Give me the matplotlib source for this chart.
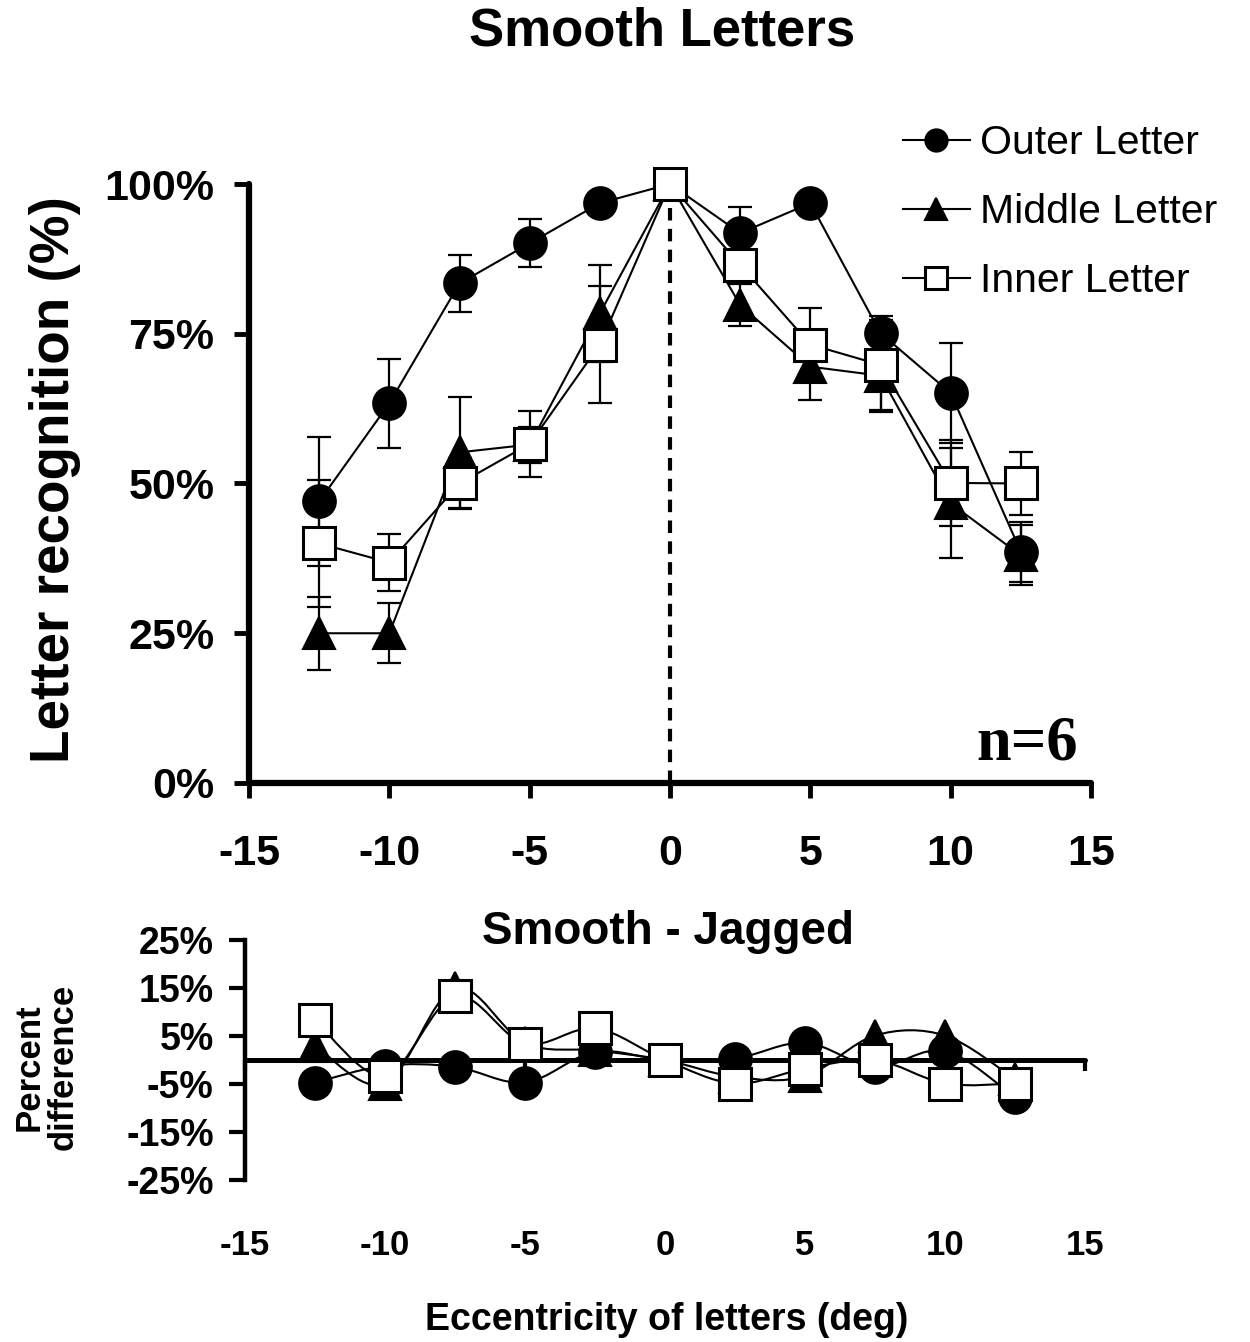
import numpy as np
import matplotlib
matplotlib.use("Agg")
import matplotlib.pyplot as plt
from matplotlib.path import Path
from matplotlib.patches import PathPatch

plt.rcParams['font.family'] = ['Liberation Sans', 'DejaVu Sans']

# ---------------- data ----------------
ecc = [-12.5, -10, -7.5, -5, -2.5, 0, 2.5, 5, 7.5, 10, 12.5]

outer = [47.0, 63.4, 83.4, 90.1, 96.8, 100.0, 91.8, 96.8, 75.1, 65.1, 38.6]
outer_err = [10.8, 7.4, 4.7, 4.0, 1.5, 0.0, 4.4, 1.5, 2.9, 8.4, 5.0]
middle = [25.0, 25.0, 55.2, 56.5, 78.4, 100.0, 79.8, 69.5, 68.0, 46.7, 38.0]
middle_err = [6.1, 5.0, 9.3, 3.0, 8.1, 0.0, 3.5, 5.6, 6.0, 9.2, 5.0]
inner = [40.0, 36.8, 50.0, 56.6, 73.2, 100.0, 86.5, 73.2, 69.8, 50.1, 50.0]
inner_err = [10.6, 4.8, 4.2, 5.5, 9.8, 0.0, 2.0, 6.1, 7.5, 7.2, 5.2]

diff_outer = [-4.7, -1.2, -1.4, -4.7, 1.7, 0.0, 0.3, 3.6, -1.4, 1.9, -7.8]
diff_middle = [3.0, -5.0, 15.0, 3.5, 2.0, 0.0, -3.5, -3.4, 5.1, 5.1, -4.0]
diff_inner = [8.3, -3.3, 13.3, 3.4, 6.6, 0.0, -4.9, -1.8, 0.0, -4.9, -4.9]

series_names = ["Outer Letter", "Middle Letter", "Inner Letter"]
x_ticks = [-15, -10, -5, 0, 5, 10, 15]
top_yticks = [0, 25, 50, 75, 100]
top_ytick_labels = ["0%", "25%", "50%", "75%", "100%"]
bot_yticks = [25, 15, 5, -5, -15, -25]
bot_ytick_labels = ["25%", "15%", "5%", "-5%", "-15%", "-25%"]

# ---------------- styles ----------------
styles = [
    dict(marker='o', mfc='black', mec='black', mew=1.5),
    dict(marker='^', mfc='black', mec='black', mew=1.5),
    dict(marker='s', mfc='white', mec='black', mew=2.2),
]
MS = 23.5
LW = 1.5

fig = plt.figure(figsize=(12.5, 13.42), dpi=100)

# ---------------- top panel ----------------
ax = fig.add_axes([249/1250, 1-783/1342, 842/1250, 599/1342])
ax.set_xlim(-15, 15)
ax.set_ylim(0, 100)

ax.plot([0, 0], [0, 100], color='black', lw=3, linestyle=(0, (3, 2)), zorder=1)

handles = []
for vals, errs, st, name, z in zip([outer, middle, inner],
                                   [outer_err, middle_err, inner_err],
                                   styles, series_names, [3, 4, 5]):
    ax.errorbar(ecc, vals, yerr=errs, fmt='none', ecolor='black',
                elinewidth=1.6, capsize=8.5, capthick=1.6, zorder=z)
    h, = ax.plot(ecc, vals, color='black', lw=LW, ms=MS, label=name,
                 zorder=z + 0.5, clip_on=False, **st)
    handles.append(h)

for s in ['top', 'right']:
    ax.spines[s].set_visible(False)
for s in ['left', 'bottom']:
    ax.spines[s].set_linewidth(4.5)
    ax.spines[s].set_capstyle('round')
ax.set_xticks(x_ticks)
ax.set_xticklabels([str(t) for t in x_ticks])
ax.set_yticks(top_yticks)
ax.set_yticklabels(top_ytick_labels)
ax.tick_params(axis='x', direction='out', length=11, width=3.5, pad=26,
               labelsize=31)
ax.tick_params(axis='y', direction='out', length=11, width=3.5, pad=14,
               labelsize=31)
for lab in ax.get_xticklabels() + ax.get_yticklabels():
    lab.set_fontweight('bold')

ax.set_ylabel("Letter recognition (%)", fontsize=39.5, fontweight='bold')
ax.yaxis.set_label_coords(-0.2, 0.506)

ax.text(0.924, 0.065, "n=6", transform=ax.transAxes, ha='center', va='center',
        fontsize=45, fontweight='bold',
        family=['Liberation Serif', 'DejaVu Serif'])

fig.legend(handles=handles, loc='upper left',
           bbox_to_anchor=(903/1250, 1-124/1342), frameon=False,
           fontsize=29.5, handlelength=1.63, handletextpad=0.25,
           labelspacing=0.76, markerscale=0.68, borderpad=0,
           borderaxespad=0)

fig.text(662/1250, 1-32/1342, "Smooth Letters", ha='center', va='center',
         fontsize=38, fontweight='bold')

# ---------------- bottom panel ----------------
ax2 = fig.add_axes([245/1250, 1-1180/1342, 840/1250, 240/1342])
ax2.set_xlim(-15, 15)
ax2.set_ylim(-25, 25)


def smooth_path(xs, ys):
    pts = np.column_stack([xs, ys]).astype(float)
    n = len(pts)
    verts = [pts[0]]
    codes = [Path.MOVETO]
    for i in range(n - 1):
        p0 = pts[i - 1] if i > 0 else pts[i]
        p1 = pts[i]
        p2 = pts[i + 1]
        p3 = pts[i + 2] if i + 2 < n else pts[i + 1]
        c1 = p1 + (p2 - p0) / 6.0
        c2 = p2 - (p3 - p1) / 6.0
        verts += [c1, c2, p2]
        codes += [Path.CURVE4] * 3
    return Path(verts, codes)


for vals, st, z in zip([diff_outer, diff_middle, diff_inner], styles, [3, 4, 5]):
    patch = PathPatch(smooth_path(ecc, vals), facecolor='none',
                      edgecolor='black', lw=1.5, zorder=z)
    ax2.add_patch(patch)
    ax2.plot(ecc, vals, linestyle='none', ms=MS, zorder=z + 0.5,
             clip_on=False, **st)

ax2.spines['top'].set_visible(False)
ax2.spines['right'].set_visible(False)
ax2.spines['bottom'].set_position(('data', 0))
ax2.spines['bottom'].set_linewidth(3.6)
ax2.spines['bottom'].set_zorder(2.5)
ax2.spines['bottom'].set_capstyle('round')
ax2.spines['left'].set_linewidth(3.2)
ax2.set_xticks(x_ticks)
ax2.tick_params(axis='x', direction='out', length=8, width=3,
                labelbottom=False)
ax2.set_yticks(bot_yticks)
ax2.set_yticklabels(bot_ytick_labels)
ax2.tick_params(axis='y', direction='out', length=11.5, width=3, pad=11,
                labelsize=27)
for lab in ax2.get_yticklabels():
    lab.set_fontweight('bold')

sec = ax2.secondary_xaxis('bottom')
sec.set_xticks(x_ticks)
sec.set_xticklabels([str(t) for t in x_ticks])
sec.spines['bottom'].set_visible(False)
sec.tick_params(axis='x', length=0, pad=35, labelsize=25)
for lab in sec.get_xticklabels():
    lab.set_fontweight('bold')

fig.text(668/1250, 1-932/1342, "Smooth - Jagged", ha='center', va='center',
         fontsize=33, fontweight='bold')
fig.text(46/1250, 1-1067/1342, "Percent\ndifference", ha='center',
         va='center', rotation=90, fontsize=25, fontweight='bold',
         multialignment='center', linespacing=1.05)
fig.text(667/1250, 1-1320/1342, "Eccentricity of letters (deg)", ha='center',
         va='center', fontsize=27, fontweight='bold')

fig.savefig("out.png", dpi=100)
